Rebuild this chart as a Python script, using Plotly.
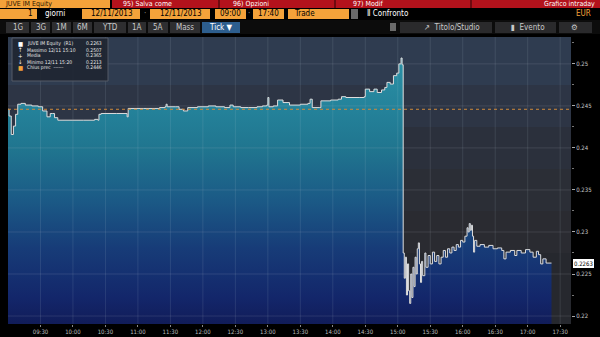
import plotly.graph_objects as go

# ---------------- DATA ----------------
DAY = "2013-11-12"
times = [
    "09:00", "09:01", "09:03", "09:05", "09:07", "09:09", "09:12", "09:16", "09:22", "09:28",
    "09:32", "09:36", "09:39", "09:41", "09:43", "09:46", "10:00", "10:10", "10:20", "10:23",
    "10:24", "10:26", "10:40", "10:49", "10:50", "10:51", "11:05", "11:20", "11:25", "11:26",
    "11:27", "11:35", "11:38", "11:42", "11:46", "11:55", "12:05", "12:12", "12:20", "12:25",
    "12:28", "12:35", "12:42", "12:50", "12:55", "12:59", "13:00", "13:01", "13:05", "13:09",
    "13:14", "13:20", "13:30", "13:37", "13:39", "13:41", "13:48", "13:49", "13:58", "14:05",
    "14:08", "14:12", "14:25", "14:29", "14:30", "14:34", "14:38", "14:41", "14:45", "14:48",
    "14:50", "14:53", "14:56", "14:59", "15:01", "15:03", "15:04",
    "15:05", "15:06", "15:07", "15:08", "15:09", "15:10", "15:11", "15:12", "15:13", "15:14",
    "15:15", "15:16", "15:17", "15:18", "15:19", "15:20", "15:21", "15:22", "15:23", "15:25",
    "15:26", "15:28", "15:30", "15:32", "15:34", "15:36", "15:38", "15:40", "15:42", "15:44",
    "15:46", "15:48", "15:50", "15:52", "15:54", "15:56", "15:58", "16:00", "16:02", "16:04",
    "16:05", "16:06", "16:07", "16:08", "16:09", "16:10", "16:11", "16:13", "16:16", "16:20",
    "16:24", "16:28", "16:32", "16:36", "16:38", "16:40", "16:44", "16:48", "16:50", "16:54",
    "16:58", "17:02", "17:05", "17:08", "17:10", "17:12", "17:14", "17:17", "17:22",
]
prices = [
    0.2446, 0.2438, 0.2416, 0.2426, 0.2440, 0.2452, 0.2453, 0.2451, 0.2450, 0.2449,
    0.2444, 0.2437, 0.2441, 0.2441, 0.2436, 0.2433, 0.2433, 0.2433, 0.2434, 0.2433,
    0.2440, 0.2441, 0.2441, 0.2441, 0.2437, 0.2447, 0.2447, 0.2448, 0.2449, 0.2452,
    0.2449, 0.2449, 0.2446, 0.2444, 0.2448, 0.2449, 0.2450, 0.2449, 0.2448, 0.2451,
    0.2449, 0.2448, 0.2448, 0.2449, 0.2450, 0.2451, 0.2460, 0.2449, 0.2450, 0.2457,
    0.2454, 0.2451, 0.2452, 0.2453, 0.2458, 0.2448, 0.2448, 0.2456, 0.2457, 0.2458,
    0.2461, 0.2460, 0.2460, 0.2461, 0.2470, 0.2467, 0.2470, 0.2466, 0.2469, 0.2472,
    0.2478, 0.2476, 0.2486, 0.2489, 0.2500, 0.2507, 0.2499,
    0.2275, 0.2245, 0.2270, 0.2225, 0.2262, 0.2230, 0.2215, 0.2250, 0.2222, 0.2258,
    0.2235, 0.2270, 0.2250, 0.2280, 0.2287, 0.2262, 0.2240, 0.2265, 0.2248, 0.2275,
    0.2258, 0.2272, 0.2262, 0.2276, 0.2265, 0.2272, 0.2262, 0.2270, 0.2278, 0.2270,
    0.2280, 0.2275, 0.2282, 0.2278, 0.2285, 0.2282, 0.2290, 0.2288, 0.2295, 0.2305,
    0.2300, 0.2310, 0.2302, 0.2308, 0.2295, 0.2276, 0.2290, 0.2283, 0.2285, 0.2282,
    0.2284, 0.2280, 0.2281, 0.2278, 0.2268, 0.2276, 0.2278, 0.2272, 0.2278, 0.2275,
    0.2279, 0.2276, 0.2270, 0.2277, 0.2273, 0.2262, 0.2268, 0.2263, 0.2263,
]
prev_close = 0.2446
last_price = 0.2263
y_ticks = [0.22, 0.225, 0.23, 0.235, 0.24, 0.245, 0.25]
y_tick_text = ["0.22", "0.225", "0.23", "0.235", "0.24", "0.245", "0.25"]
x_tick_times = ["09:30", "10:00", "10:30", "11:00", "11:30", "12:00", "12:30", "13:00",
                "13:30", "14:00", "14:30", "15:00", "15:30", "16:00", "16:30", "17:00", "17:30"]
legend_rows = [
    ("JUVE IM Equity  (R1)", "0.2263"),
    ("Massimo 12/11 15:10", "0.2507"),
    ("Media", "0.2365"),
    ("Minimo 12/11 15:20", "0.2213"),
    ("Chius prec  ------", "0.2446"),
]
period_buttons = ["1G", "3G", "1M", "6M", "YTD", "1A", "5A", "Mass"]

# ---------------- LAYOUT HELPERS ----------------
W, H = 600, 337
def px(x): return x / W
def py(y): return 1 - y / H

FONT = "Liberation Sans Narrow, DejaVu Sans Condensed, Arial Narrow, sans-serif"
ORANGE = "#f4a23a"
RED = "#b3121c"
Y_MIN, Y_MAX = 0.21905, 0.2532
X0, X1 = f"{DAY} 09:00", f"{DAY} 17:40"
PLOT_L, PLOT_R, PLOT_T, PLOT_B = 8, 571, 37, 324

xs = [f"{DAY} {t}" for t in times]

fig = go.Figure()
fig.add_trace(go.Scatter(
    x=xs, y=prices, mode="lines", line=dict(color="#dedede", width=1, shape="hv"),
    fill="tozeroy",
    fillgradient=dict(type="vertical", start=Y_MIN, stop=max(prices),
                      colorscale=[[0, "#111c58"], [0.10, "#13266a"], [0.29, "#173c78"],
                                  [0.47, "#1b5a86"], [0.66, "#20758f"], [0.81, "#24829a"],
                                  [1, "#2a90a6"]]),
    hoverinfo="skip", showlegend=False))

shapes = []
annotations = []

# background bands in plot area
bands = [(0.2475, Y_MAX, "#2f3c50"), (0.2425, 0.2475, "#2d3545"), (0.2375, 0.2425, "#2b303c"),
         (0.2325, 0.2375, "#2b2e36"), (0.2275, 0.2325, "#2a2b31"), (Y_MIN, 0.2275, "#26282e")]
for lo, hi, c in bands:
    shapes.append(dict(type="rect", xref="paper", yref="y", x0=px(PLOT_L), x1=px(PLOT_R),
                       y0=lo, y1=hi, fillcolor=c, line_width=0, layer="below"))

# grid lines above fill (faint)
for t in x_tick_times:
    shapes.append(dict(type="line", xref="x", yref="paper", x0=f"{DAY} {t}", x1=f"{DAY} {t}",
                       y0=py(PLOT_B), y1=py(PLOT_T), line=dict(color="rgba(200,210,225,0.12)", width=1),
                       layer="above"))
for v in y_ticks:
    shapes.append(dict(type="line", xref="paper", yref="y", x0=px(PLOT_L), x1=px(PLOT_R),
                       y0=v, y1=v, line=dict(color="rgba(200,200,210,0.14)", width=1), layer="above"))

# previous close dotted line
shapes.append(dict(type="line", xref="paper", yref="y", x0=px(PLOT_L), x1=px(PLOT_R),
                   y0=prev_close, y1=prev_close, line=dict(color="#d08a3a", width=1, dash="dot"),
                   layer="above"))

def rect(x0, y0, x1, y1, color, line=None):
    d = dict(type="rect", xref="paper", yref="paper", x0=px(x0), x1=px(x1), y0=py(y1), y1=py(y0),
             fillcolor=color, line_width=0, layer="above")
    if line:
        d["line"] = dict(color=line, width=1)
        del d["line_width"]
    shapes.append(d)

def text(x, y, s, color="#dddddd", size=8, anchor="center", bg=None, pad=1):
    a = dict(xref="paper", yref="paper", x=px(x), y=py(y), text=s, showarrow=False,
             font=dict(family=FONT, size=size, color=color), xanchor=anchor, yanchor="middle",
             borderpad=pad)
    if bg:
        a["bgcolor"] = bg
    annotations.append(a)

# ---- header row 1 ----
rect(0, 0, 110, 8, ORANGE)
rect(112, 0, 600, 8, RED)
for xx in (218, 334, 470):
    rect(xx, 0, xx + 2, 8, "#6e0a10")
text(4, 4.5, "JUVE IM Equity", "#2a1500", 7, "left", pad=0)
text(122, 4.5, "95) Salva come", "#ffffff", 7, "left", pad=0)
text(232, 4.5, "96) Opzioni", "#ffffff", 7, "left", pad=0)
text(352, 4.5, "97) Modif", "#ffffff", 7, "left", pad=0)
text(596, 4.5, "Grafico intraday", "#ffffff", 7, "right", pad=0)

# ---- header row 2 ----
rect(0, 8, 600, 20, "#000000")
rect(0, 9, 37, 19, ORANGE)
text(35, 14, "1", "#000000", 8, "right")
text(43, 14, "giorni", "#ffffff", 8, "left")
rect(82, 9, 140, 19, ORANGE)
text(111, 14, "12/11/2013", "#000000", 8)
text(145, 14, "·", "#888888", 8)
rect(150, 9, 210, 19, ORANGE)
text(180, 14, "12/11/2013", "#000000", 8)
rect(215, 9, 246, 19, ORANGE)
text(230, 14, "09:00", "#000000", 8)
text(249, 14, "·", "#888888", 8)
rect(253, 9, 284, 19, ORANGE)
text(268, 14, "17:40", "#000000", 8)
rect(288, 9, 349, 19, ORANGE)
text(292, 14, "Trade", "#000000", 8, "left")
rect(351, 9, 358, 19, "#6a6a6a")
text(365, 14, "\u2161 Confronto", "#ffffff", 8, "left")
text(593, 14, "EUR", ORANGE, 8, "right")

# ---- header row 3 ----
rect(0, 20, 600, 34, "#0c0c0c")
btn_x = [(6, 29), (31, 50), (52, 71), (73, 92), (94, 126), (128, 146), (148, 168), (170, 200)]
for (a, b), lab in zip(btn_x, period_buttons):
    rect(a, 22, b, 33, "#2e2e30")
    text((a + b) / 2, 27.5, lab, "#c8c8c8", 8)
rect(202, 22, 240, 33, "#2d5e8e")
text(221, 27.5, "Tick \u25bc", "#ffffff", 8)
rect(390, 23, 396, 31, "#6a6a6a")
rect(400, 22, 492, 33, "#2a2a2c")
text(452, 27.5, "\u2197  Titolo/Studio", "#c8c8c8", 8)
rect(495, 22, 556, 33, "#2a2a2c")
text(528, 27.5, "\u25ae  Evento", "#c8c8c8", 8)
rect(559, 22, 592, 33, "#2a2a2c")
text(574, 27.5, "\u2699", "#c8c8c8", 8)

# ---- legend box ----
rect(12, 38, 108, 81, "rgba(32,38,50,0.92)", line="#555b66")
row_y = [43.5, 49.5, 55.5, 61.5, 67.5]
icons = ["\u25a0", "\u2191", "+", "\u2193", "\u25a0"]
icon_col = ["#ffffff", "#ffffff", "#ffffff", "#ffffff", ORANGE]
for (lab, val), yy, ic, icc in zip(legend_rows, row_y, icons, icon_col):
    text(20, yy, ic, icc, 6)
    text(25, yy, lab, "#e6e6e6", 5, "left")
    text(104, yy, val, "#e6e6e6", 5, "right")

# last price box on right axis
annotations.append(dict(xref="paper", yref="y", x=px(573), y=last_price, text=f"{last_price:.4f}",
                        showarrow=False, xanchor="left", yanchor="middle", bgcolor="#ffffff",
                        bordercolor="#ffffff", borderpad=0,
                        font=dict(family=FONT, size=6, color="#000000")))

fig.update_layout(
    width=W, height=H, margin=dict(l=0, r=0, t=0, b=0),
    paper_bgcolor="#000000", plot_bgcolor="#2b303c",
    shapes=shapes, annotations=annotations, showlegend=False,
    xaxis=dict(domain=[px(PLOT_L), px(PLOT_R)], range=[X0, X1], type="date",
               tickvals=[f"{DAY} {t}" for t in x_tick_times], ticktext=x_tick_times,
               ticks="outside", ticklen=2, tickcolor="#888888", showgrid=False, zeroline=False,
               showline=False, tickfont=dict(family=FONT, size=6, color="#bdbdbd"),
               automargin=False, fixedrange=True),
    yaxis=dict(domain=[py(PLOT_B), py(PLOT_T)], range=[Y_MIN, Y_MAX], side="right",
               tickvals=y_ticks, ticktext=y_tick_text, ticks="outside", ticklen=3,
               tickcolor="#aaaaaa", showgrid=False, zeroline=False, showline=False,
               tickfont=dict(family=FONT, size=6, color="#c8c8c8"),
               minor=dict(dtick=0.0025, tick0=0.22, ticks="outside", ticklen=2, tickcolor="#777777"),
               automargin=False, fixedrange=True),
)

fig.write_html("out.html")
